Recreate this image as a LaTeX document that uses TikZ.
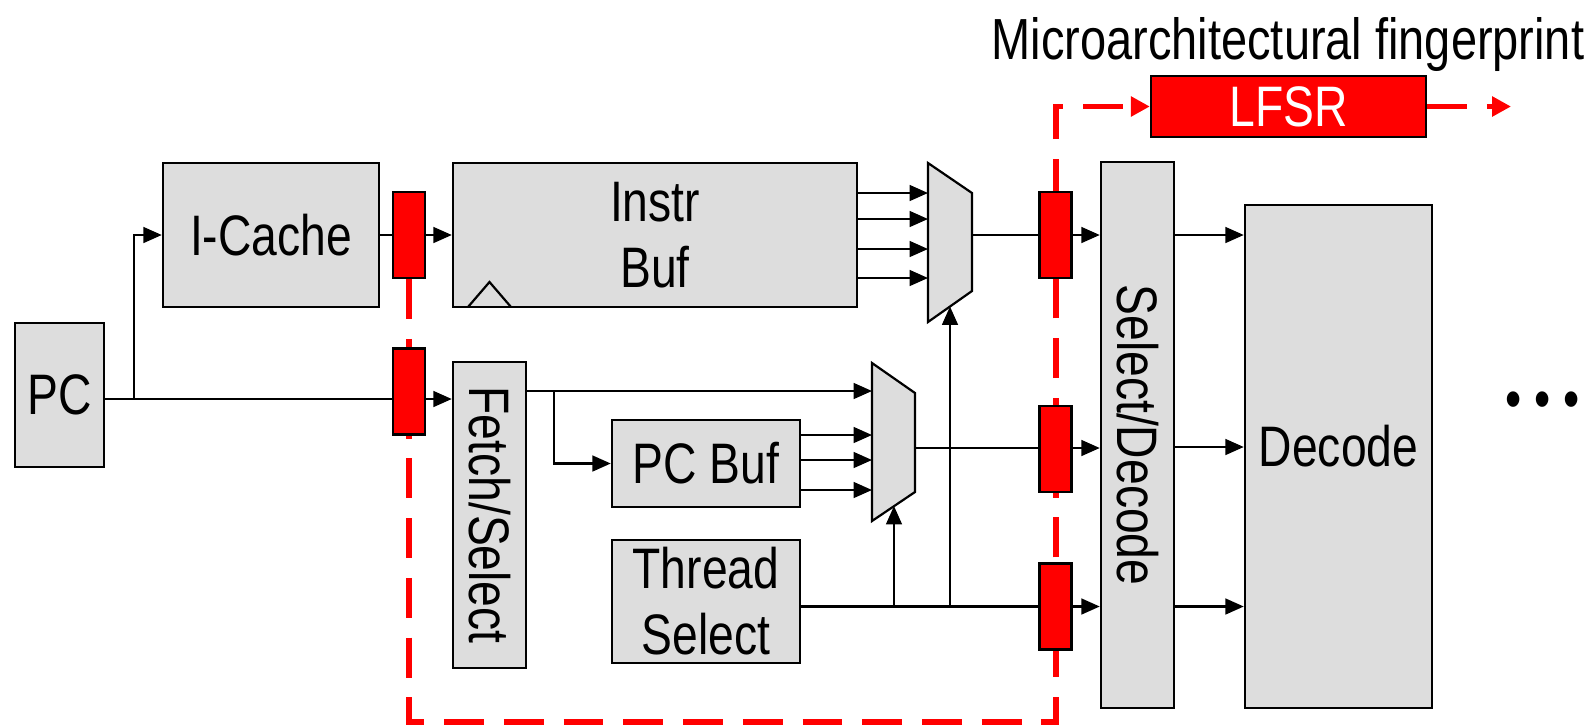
\documentclass[tikz,border=0pt]{standalone}
\usepackage{fontspec}
\setmainfont[FakeStretch=0.81]{Liberation Sans}
\usepackage{graphicx}
\usetikzlibrary{arrows.meta}
\definecolor{boxgray}{HTML}{DDDDDD}

\begin{document}
\begin{tikzpicture}[x=0.02cm,y=-0.02cm,>={Triangle[length=10.5pt,width=9pt]},
  every node/.style={font=\fontsize{32.5}{37.5}\selectfont,inner sep=0pt},
  blk/.style={draw,line width=1.4pt,fill=boxgray,align=center},
  latch/.style={draw,line width=1.4pt,fill=red,minimum width=0.64cm,minimum height=1.72cm},
  sig/.style={line width=1.25pt},
  fp/.style={red,line width=3.2pt,dash pattern=on 22.7pt off 11.3pt,
    -{Triangle[length=10.8pt,width=11pt]}}]
  \useasboundingbox (0,0) rectangle (1587,725);

  % blocks
  \node[blk,minimum width=1.78cm,minimum height=2.88cm] (pc) at (59.5,395) {PC};
  \node[blk,minimum width=4.32cm,minimum height=2.88cm] (icache) at (271,235) {I-Cache};
  \node[blk,minimum width=8.08cm,minimum height=2.88cm] (ibuf) at (655,235) {Instr\\Buf};
  \draw[sig] (468,307) -- (489.5,282) -- (511,307);
  \node[blk,minimum width=1.46cm,minimum height=6.12cm] (fetch) at (489.5,515) {\rotatebox{-90}{Fetch/Select}};
  \node[blk,minimum width=3.76cm,minimum height=1.74cm] (pcbuf) at (706,463.5) {PC Buf};
  \node[blk,minimum width=3.76cm,minimum height=2.46cm] (thread) at (706,601.5) {Thread\\Select};
  \node[blk,minimum width=1.46cm,minimum height=10.92cm] (seldec) at (1137.5,435) {\rotatebox{-90}{Select/Decode}};
  \node[blk,minimum width=3.74cm,minimum height=10.06cm] (decode) at (1338.5,456.5) {\raisebox{0.44cm}{Decode}};
  \node (dots) at (1543,405) {• • •};

  % fingerprint chain
  \node[draw,line width=1.4pt,fill=red,text=white,minimum width=5.5cm,minimum height=1.22cm] (lfsr) at (1288.5,106.5) {LFSR};
  \node[anchor=base,font=\fontsize{33}{38}\selectfont] (title) at (1288,59) {Microarchitectural fingerprint};
  \node[latch] (l1) at (409,235) {};
  \coordinate (fpcorner) at (1056,722);
  \coordinate (fpout) at (1511,106.5);
  \draw[fp] (l1.south) |- (fpcorner) |- (lfsr.west);
  \draw[fp] (lfsr.east) -- (fpout);
  \node[latch] (l2) at (409,391.5) {};
  \node[latch] (l3) at (1055.5,235) {};
  \node[latch] (l4) at (1055.5,449) {};
  \node[latch] (l5) at (1055.5,606.5) {};

  % PC path
  \coordinate (pcrow) at (134,399);
  \draw[sig] (pc.east |- pcrow) -- (l2.west |- pcrow);
  \draw[sig,->] (l2.east |- pcrow) -- (fetch.west |- pcrow);
  \draw[sig,->] (pcrow) |- (icache.west);
  \draw[sig] (icache.east) -- (l1.west);
  \draw[sig,->] (l1.east) -- (ibuf.west);

  % instr mux
  \filldraw[sig,fill=boxgray] (928,163) coordinate (m1) -- (972,193) -- (972,291) -- (928,322) -- cycle;
  \foreach \y in {193,219,249,278}
    \draw[sig,->] (ibuf.east |- 0,\y) -- (m1 |- 0,\y);
  \coordinate (m1out) at (972,235);
  \coordinate (m1sel) at (950,306.5);
  \draw[sig] (m1out) -- (l3.west);
  \draw[sig,->] (l3.east) -- (seldec.west |- l3.east);

  % pc mux
  \filldraw[sig,fill=boxgray] (872,363) coordinate (m2) -- (915,393) -- (915,492) -- (872,521) -- cycle;
  \coordinate (fsbr) at (554,391);
  \draw[sig,->] (fetch.east |- fsbr) -- (m2 |- fsbr);
  \draw[sig,->] (fsbr) |- (pcbuf.west);
  \foreach \y in {435,460,490}
    \draw[sig,->] (pcbuf.east |- 0,\y) -- (m2 |- 0,\y);
  \coordinate (m2out) at (915,448);
  \coordinate (m2sel) at (894,506);
  \draw[sig] (m2out) -- (l4.west |- m2out);
  \draw[sig,->] (l4.east |- m2out) -- (seldec.west |- m2out);

  % thread select
  \draw[sig] (thread.east |- l5) -- (l5.west);
  \draw[sig,->] (l5.east) -- (seldec.west |- l5.east);
  \draw[sig,->] (m2sel |- l5) -- (m2sel);
  \draw[sig,->] (m1sel |- l5) -- (m1sel);

  % to decode
  \foreach \y in {235,447,606.5}
    \draw[sig,->] (seldec.east |- 0,\y) -- (decode.west |- 0,\y);
\end{tikzpicture}
\end{document}
